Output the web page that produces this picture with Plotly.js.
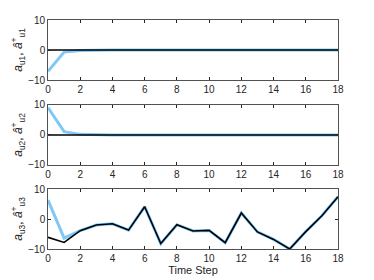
<!DOCTYPE html>
<html><head><meta charset="utf-8">
<script src="https://cdn.plot.ly/plotly-3.0.1.min.js"></script>
<style>html,body{margin:0;padding:0;background:#fff}#plot{width:374px;height:280px}</style>
</head><body><div id="plot"></div>
<script>
const timeSteps = [0,1,2,3,4,5,6,7,8,9,10,11,12,13,14,15,16,17,18];
const a1 = [0,0,0,0,0,0,0,0,0,0,0,0,0,0,0,0,0,0,0];
const a1hat = [-7.1,-0.7,-0.2,0,0,0,0,0,0,0,0,0,0,0,0,0,0,0,0];
const a2 = [0,0,0,0,0,0,0,0,0,0,0,0,0,0,0,0,0,0,0];
const a2hat = [9.1,1.1,0.2,0,0,0,0,0,0,0,0,0,0,0,0,0,0,0,0];
const a3 = [-6.1,-7.8,-3.9,-2.0,-1.6,-3.7,4.1,-8.2,-1.9,-4.0,-3.8,-7.9,2.0,-4.3,-6.8,-10.0,-4.2,1.1,7.4];
const a3hat = [6.3,-6.4,-3.9,-2.0,-1.6,-3.7,4.1,-8.2,-1.9,-4.0,-3.8,-7.9,2.0,-4.3,-6.8,-10.0,-4.2,1.1,7.4];
const xTicks = [0,2,4,6,8,10,12,14,16,18];
const yTicks = [-10,0,10];
const yTitles = [
  '<i>a</i><sub>u1</sub>, <i>â</i><sup>+</sup><sub>u1</sub>',
  '<i>a</i><sub>u2</sub>, <i>â</i><sup>+</sup><sub>u2</sub>',
  '<i>a</i><sub>u3</sub>, <i>â</i><sup>+</sup><sub>u3</sub>'
];
const blue = '#80c8f8';
const dark = '#262626';
const ff = 'Liberation Sans, Arial';
function tr(y, ax, color, w){
  return {x: timeSteps, y: y, xaxis: 'x'+(ax===1?'':ax), yaxis: 'y'+(ax===1?'':ax),
    mode:'lines', line:{color:color, width:w}, showlegend:false, hoverinfo:'skip'};
}
const data = [
  tr(a1hat,1,blue,3), tr(a1,1,'#000',1.6),
  tr(a2hat,2,blue,3), tr(a2,2,'#000',1.6),
  tr(a3hat,3,blue,3), tr(a3,3,'#000',1.6)
];
function xax(anchor){
  return {range:[0,18], tickvals:xTicks, ticks:'inside', ticklen:3, tickcolor:dark,
    showline:true, linecolor:dark, linewidth:0.8, mirror:'ticks', showgrid:false, zeroline:false,
    tickfont:{size:10, color:dark, family:ff}, anchor:anchor, fixedrange:true};
}
function yax(domain, title, anchor){
  return {range:[-10,10], tickvals:yTicks, ticks:'inside', ticklen:3, tickcolor:dark,
    showline:true, linecolor:dark, linewidth:0.8, mirror:'ticks', showgrid:false, zeroline:false,
    tickfont:{size:10, color:dark, family:ff}, domain:domain, anchor:anchor,
    title:{text:title, font:{size:12, color:dark, family:ff}, standoff:2}};
}
const layout = {
  width:374, height:280, margin:{l:48, r:36, t:20, b:31},
  paper_bgcolor:'#fff', plot_bgcolor:'#fff',
  xaxis: xax('y'),
  yaxis: yax([0.738,1], yTitles[0], 'x'),
  xaxis2: xax('y2'),
  yaxis2: yax([0.367,0.629], yTitles[1], 'x2'),
  xaxis3: Object.assign(xax('y3'), {title:{text:'Time Step', font:{size:11, color:dark, family:ff}, standoff:2}}),
  yaxis3: yax([0,0.262], yTitles[2], 'x3')
};
Plotly.newPlot('plot', data, layout, {displayModeBar:false, staticPlot:true});
</script></body></html>
